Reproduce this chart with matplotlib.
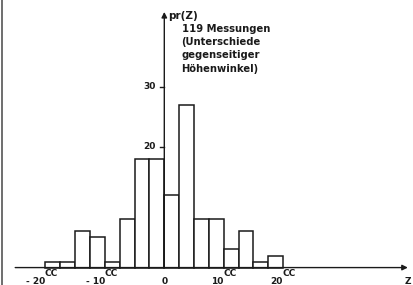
import numpy as np
import matplotlib
matplotlib.use('Agg')
import matplotlib.pyplot as plt

# histogram of 119 measurements, bin width 2.5cc
bin_edges = np.arange(-20, 20.01, 2.5)
counts = [1, 1, 6, 5, 1, 8, 18, 18, 12, 27, 8, 8, 3, 6, 1, 2]
xticks = [-20, -10, 0, 10, 20]
xlabels = ['- 20', '- 10', '0', '10', '20']
yticks = [20, 30]
note = "119 Messungen\n(Unterschiede\ngegenseitiger\nHöhenwinkel)"

fig = plt.figure(figsize=(4.13, 2.85), dpi=100)
ax = fig.add_axes([0, 0, 1, 1])
ax.set_xlim(-27.66, 41.87)
ax.set_ylim(-2.89, 44.38)
ax.axis('off')

ink = '#1a1a1a'
fs = 6.5

ax.bar(bin_edges[:-1], counts, width=2.5, align='edge', color='white',
       edgecolor=ink, linewidth=1.1, zorder=2)

# axes with arrows
ax.annotate('', xy=(41.0, 0), xytext=(-25.1, 0),
            arrowprops=dict(arrowstyle='-|>', color=ink, lw=1.0,
                            mutation_scale=8, shrinkA=0, shrinkB=0), zorder=3)
ax.annotate('', xy=(0, 42.4), xytext=(0, 0),
            arrowprops=dict(arrowstyle='-|>', color=ink, lw=1.0,
                            mutation_scale=8, shrinkA=0, shrinkB=0), zorder=3)

for v in yticks:
    ax.plot([-0.7, 0], [v, v], color=ink, lw=1.0)
    ax.text(-1.5, v, str(v), ha='right', va='center', fontsize=fs,
            fontweight='bold', color=ink)

for t, lab in zip(xticks, xlabels):
    if t == 0:
        ax.text(t, -1.5, lab, ha='center', va='top', fontsize=fs,
                fontweight='bold', color=ink)
    else:
        ax.text(t, -1.5, lab, ha='right', va='top', fontsize=fs,
                fontweight='bold', color=ink)
        ax.text(t - 0.1, -0.2, 'CC', ha='left', va='top', fontsize=fs,
                fontweight='bold', color=ink)

ax.text(41.0, -1.5, 'Z', ha='center', va='top', fontsize=fs,
        fontweight='bold', color=ink)
ax.text(0.6, 41.8, 'pr(Z)', ha='left', va='center', fontsize=7.5,
        fontweight='bold', color=ink)
ax.text(2.9, 40.4, note, ha='left', va='top', fontsize=7.2,
        fontweight='bold', color=ink, linespacing=1.4)

# scan border on the left
fig.add_artist(plt.Line2D([0.004, 0.004], [0, 1], color='#555555', lw=1.2))

fig.savefig('out.png', dpi=100)
